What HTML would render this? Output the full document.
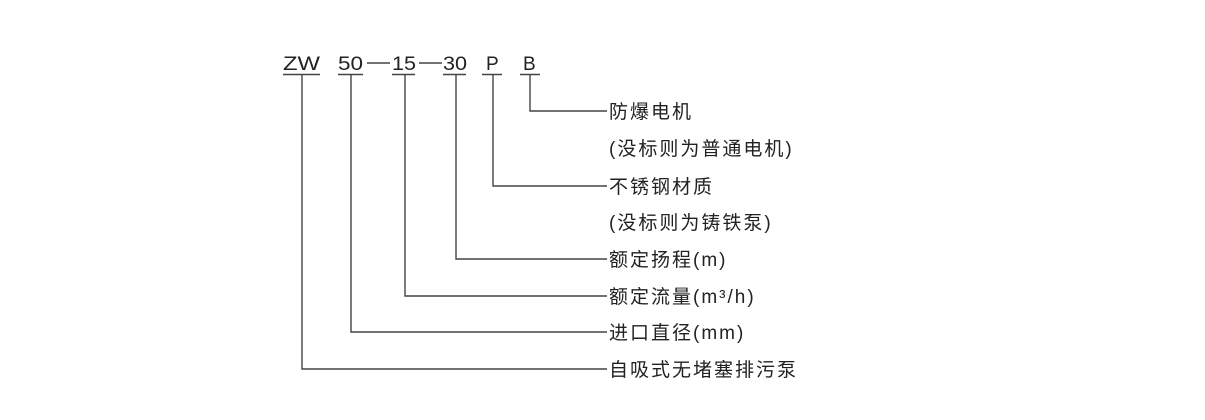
<!DOCTYPE html>
<html><head><meta charset="utf-8"><style>
html,body{margin:0;padding:0;background:#fff;width:1205px;height:420px;overflow:hidden}
svg text{font-family:"Liberation Sans","Noto Sans CJK SC",sans-serif;fill:#222}
</style></head><body>
<svg width="1205" height="420" xmlns="http://www.w3.org/2000/svg">
<g font-size="19">
<text x="283" y="70" textLength="37" lengthAdjust="spacingAndGlyphs">ZW</text>
<text x="338" y="70" textLength="25" lengthAdjust="spacingAndGlyphs">50</text>
<text x="392" y="70" textLength="24" lengthAdjust="spacingAndGlyphs">15</text>
<text x="443" y="70" textLength="24" lengthAdjust="spacingAndGlyphs">30</text>
<text x="486" y="70">P</text>
<text x="523" y="70">B</text>
</g>
<g stroke="#444" stroke-width="1.4" fill="none">
<line x1="367" y1="63" x2="390" y2="63"/>
<line x1="419" y1="63" x2="442" y2="63"/>
<line x1="283" y1="74.5" x2="320" y2="74.5"/>
<line x1="338" y1="74.5" x2="363" y2="74.5"/>
<line x1="392" y1="74.5" x2="415" y2="74.5"/>
<line x1="443" y1="74.5" x2="466" y2="74.5"/>
<line x1="482" y1="74.5" x2="502" y2="74.5"/>
<line x1="520" y1="74.5" x2="540" y2="74.5"/>
<polyline points="530,75 530,111 607,111"/>
<polyline points="493,75 493,186 607,186"/>
<polyline points="456,75 456,259 607,259"/>
<polyline points="405,75 405,296 607,296"/>
<polyline points="351,75 351,332 607,332"/>
<polyline points="302,75 302,369 607,369"/>
</g>
<g font-size="19" letter-spacing="2">
<text x="609" y="118">防爆电机</text>
<text x="609" y="155">(没标则为普通电机)</text>
<text x="609" y="193">不锈钢材质</text>
<text x="609" y="229">(没标则为铸铁泵)</text>
<text x="609" y="266">额定扬程(m)</text>
<text x="609" y="303">额定流量(m³/h)</text>
<text x="609" y="339">进口直径(mm)</text>
<text x="609" y="376">自吸式无堵塞排污泵</text>
</g>
</svg>
</body></html>
